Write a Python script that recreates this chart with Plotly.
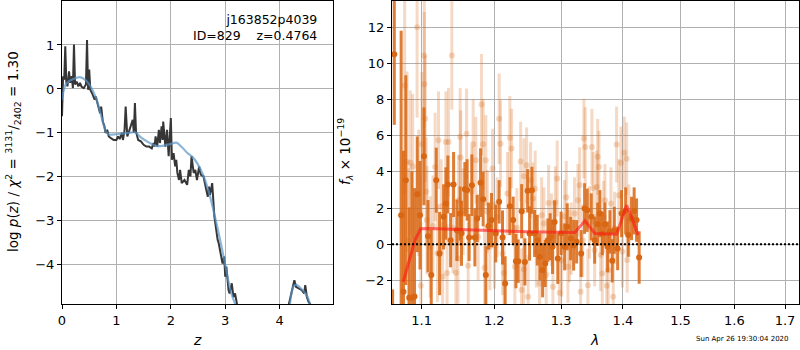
import numpy as np
import plotly.graph_objects as go

# ---------------- left panel: p(z) ----------------
z_pz = [0.00,0.02,0.04,0.06,0.08,0.10,0.13,0.15,0.18,0.20,0.22,0.24,0.27,0.30,0.33,0.36,0.40,0.44,0.46,0.48,
        0.50,0.52,0.55,0.60,0.62,0.65,0.68,0.70,0.72,0.75,0.78,0.80,0.83,0.86,0.90,0.95,1.00,1.03,1.06,1.10,
        1.12,1.15,1.17,1.20,1.23,1.26,1.30,1.32,1.34,1.36,1.40,1.45,1.50,1.55,1.60,1.65,1.68,1.70,1.72,1.75,
        1.78,1.80,1.83,1.85,1.86,1.90,1.93,1.96,1.98,2.00,2.02,2.05,2.08,2.10,2.12,2.15,2.17,2.20,2.25,2.30,
        2.33,2.36,2.38,2.40,2.42,2.45,2.48,2.52,2.55,2.60,2.62,2.65,2.68,2.70,2.72,2.76,2.80,2.83,2.86,2.88,
        2.90,2.92,2.95,2.98,3.00,3.02,3.04,3.06,3.08,3.10,3.12,3.15,3.18,3.22,3.26,3.40,3.80,4.00,4.12,4.17,
        4.22,4.27,4.30,4.35,4.40,4.45,4.47,4.50,4.53,4.56,4.62,4.80,4.98]
logp = [-0.62,0.29,0.21,0.97,0.14,0.06,0.40,0.14,0.29,0.02,1.01,0.10,0.17,0.06,0.14,0.05,0.02,0.10,1.11,-0.02,
        0.44,-0.02,-0.09,-0.24,-0.17,-0.32,-0.43,-0.55,-0.40,-0.74,-0.85,-1.00,-0.93,-1.08,-1.12,-1.16,-1.16,-1.08,-1.14,-1.00,
        -1.16,-0.93,-0.40,-1.08,-0.97,-0.85,-0.70,-1.00,-0.32,-0.97,-1.16,-1.19,-1.27,-1.31,-1.31,-1.35,-1.23,-1.31,-1.08,-1.31,
        -0.93,-1.23,-0.85,-1.16,-0.74,-1.31,-0.93,-1.53,-1.16,-0.66,-1.61,-1.46,-1.76,-1.61,-1.91,-2.07,-1.84,-2.14,-2.07,-2.18,
        -1.84,-1.99,-1.53,-1.69,-1.91,-1.84,-2.07,-1.76,-1.95,-1.99,-2.14,-2.29,-2.45,-2.22,-2.41,-2.14,-2.90,-3.21,-3.43,-3.51,
        -3.62,-3.74,-3.97,-3.81,-4.27,-4.04,-4.42,-4.57,-4.65,-4.50,-4.42,-4.73,-4.65,-4.92,-5.30,-6.0,-7.0,-6.0,-5.3,-4.89,
        -4.65,-4.35,-4.50,-4.54,-4.57,-4.65,-4.46,-4.73,-4.84,-4.89,-5.3,-6.5,-7.0]

z_smooth = [0,0.05,0.1,0.2,0.33,0.45,0.55,0.65,0.75,0.8,0.85,1.0,1.2,1.35,1.45,1.6,1.75,1.9,2.0,2.1,2.2,2.3,
            2.4,2.5,2.6,2.7,2.8,2.9,3.0,3.1,3.2,3.3,3.6,4.0,4.15,4.25,4.3,4.4,4.5,4.56,4.65,4.98]
logp_smooth = [-0.24,0.05,0.15,0.22,0.27,0.18,0.0,-0.3,-0.75,-0.95,-1.03,-1.03,-1.0,-0.99,-1.1,-1.22,-1.3,-1.28,-1.25,-1.22,-1.32,-1.45,
               -1.55,-1.72,-1.98,-2.35,-2.85,-3.4,-4.0,-4.6,-4.95,-5.3,-6.5,-6.0,-5.2,-4.5,-4.45,-4.55,-4.7,-4.9,-5.3,-7.0]

# ---------------- right panel: spectrum ----------------
wave_dark = [1.0624,1.0645,1.0733,1.0763,1.0793,1.0837,1.0872,1.0906,1.0942,1.0978,1.1030,1.1084,1.1127,1.1194,1.1239,
             1.1293,1.1324,1.1351,1.1388,1.1429,1.1474,1.1519,1.1538,1.1584,1.1616,1.1644,1.1682,1.1724,1.1757,1.1804,
             1.1841,1.1879,1.1917,1.1960,1.2021,1.2070,1.2119,1.2157,1.2226,1.2275,1.2315,1.2349,1.2400,1.2448,1.2489,
             1.2518,1.2553,1.2594,1.2634,1.2674,1.2715,1.2755,1.2796,1.2831,1.2868,1.2899,1.2949,1.3000,1.3055,1.3096,
             1.3150,1.3197,1.3244,1.3316,1.3371,1.3413,1.3478,1.3533,1.3582,1.3619,1.3657,1.3701,1.3745,1.3783,1.3821,
             1.3855,1.3911,1.3977,1.4045,1.4089,1.4145,1.4189,1.4230,1.4274]
flux_dark = [-4.5,10.5,1.6,-2.63,3.54,-2.97,-2.97,-2.9,2.76,1.6,4.86,0.44,-1.71,3.54,-0.52,
             1.51,2.25,3.3,0.22,3.3,0.77,1.7,0.6,3.04,3.0,0.37,3.26,0.37,1.42,3.4,
             2.49,-1.71,1.0,1.33,0.59,2.34,0.37,-2.17,2.1,1.33,-0.94,-0.94,1.82,-0.98,2.95,
             0.59,2.98,0.59,0.22,-0.7,-1.44,-1.07,0.22,0.41,-0.15,1.22,-0.8,0.6,-0.15,0.96,
             0.31,-0.06,0.13,-0.52,1.97,1.88,1.51,0.22,1.1,1.69,0.59,1.1,-0.15,0.68,-0.92,
             0.77,-0.24,1.69,1.84,0.5,1.42,1.84,1.33,-0.74]
err_dark = [2.0,3.9,10.2,7.8,5.8,5.0,7.0,6.0,3.2,3.0,2.7,2.0,2.5,1.8,2.3,
            1.8,2.0,1.6,1.5,1.8,1.7,1.5,1.8,1.5,1.7,1.3,1.7,1.6,1.3,1.9,
            1.5,1.6,1.3,1.5,1.6,1.2,1.5,1.5,1.6,1.3,1.5,1.2,1.5,1.3,1.2,
            1.5,1.3,1.3,1.4,1.3,1.5,1.3,1.2,1.3,1.5,1.2,1.4,1.2,1.3,1.3,
            1.2,1.4,1.2,1.3,1.4,1.2,1.3,1.3,1.2,1.3,1.2,1.2,1.4,1.2,1.2,
            1.3,1.2,1.3,1.3,1.2,1.2,1.3,1.2,1.45]

wave_light = [1.0778,1.0810,1.0830,1.0852,1.0883,1.0940,1.0961,1.0990,1.1004,1.1034,1.1036,1.1047,1.1060,1.1070,1.1113,
              1.1150,1.1179,1.1210,1.1224,1.1260,1.1280,1.1324,1.1340,1.1360,1.1405,1.1420,1.1460,1.1490,1.1497,1.1519,
              1.1526,1.1560,1.1608,1.1630,1.1680,1.1700,1.1738,1.1770,1.1818,1.1841,1.1860,1.1879,1.1900,1.1936,1.1975,
              1.2003,1.2040,1.2070,1.2090,1.2119,1.2140,1.2190,1.2226,1.2251,1.2299,1.2330,1.2385,1.2398,1.2430,1.2433,
              1.2474,1.2497,1.2533,1.2568,1.2603,1.2620,1.2669,1.2700,1.2735,1.2770,1.2806,1.2850,1.2873,1.2910,1.2939,
              1.2976,1.3010,1.3055,1.3080,1.3106,1.3130,1.3159,1.3210,1.3265,1.3292,1.3307,1.3340,1.3360,1.3381,1.3424,
              1.3450,1.3489,1.3510,1.3533,1.3565,1.3582,1.3603,1.3630,1.3657,1.3680,1.3701,1.3730,1.3755,1.3800,1.3838,
              1.3860,1.3894,1.3930,1.3966,1.3990,1.4022,1.4062,1.4071,1.4100]
flux_light = [8.78,4.55,0.2,4.5,4.3,12.0,2.84,-2.3,5.52,10.44,8.84,6.94,2.9,1.33,-0.15,
              1.0,4.27,-0.5,5.75,2.1,-1.8,5.65,-1.6,5.65,10.44,0.9,-1.58,-0.8,2.43,5.93,
              4.8,1.8,6.11,-1.2,2.9,5.52,4.64,0.4,7.72,5.52,-1.3,4.64,1.8,-0.15,4.18,
              -0.06,1.5,6.94,5.56,-0.52,-1.6,2.8,5.89,5.29,-1.25,0.9,4.57,-2.54,-1.4,3.76,
              4.36,-2.91,3.54,2.52,3.07,-0.4,-2.17,1.6,1.14,-1.7,2.28,0.8,-2.36,2.3,3.63,
              -2.69,-0.9,1.55,2.6,-1.25,-0.1,0.31,1.7,2.43,3.26,-2.63,0.2,5.84,5.38,-2.27,
              1.2,5.38,3.1,-0.33,3.17,4.83,4.27,-0.6,-1.62,1.5,2.43,-2.3,-1.44,2.25,-2.91,
              0.9,5.51,2.7,4.5,-0.4,5.05,4.73,-0.88,1.3]
err_light = [6.0,5.0,4.0,4.0,4.0,5.0,3.5,3.5,4.0,4.0,4.0,3.5,3.0,3.0,2.8,
             2.8,3.0,2.7,2.7,2.6,3.0,2.8,2.7,3.0,3.0,2.5,2.5,2.5,2.5,2.7,
             2.6,2.4,2.5,2.4,2.5,2.5,2.4,2.4,2.8,2.5,2.3,2.5,2.3,2.4,2.2,
             2.4,2.2,2.5,2.4,2.3,2.2,2.3,2.3,2.2,2.3,2.2,2.2,2.3,2.1,2.1,
             2.1,2.3,2.1,2.0,2.1,2.0,2.1,2.1,2.0,2.0,2.1,2.0,2.0,2.0,2.1,
             1.9,2.0,2.0,2.0,2.0,2.0,2.0,2.0,2.0,2.1,2.0,2.0,2.2,2.2,2.0,
             2.0,2.1,2.0,2.0,2.0,2.1,2.0,2.0,2.0,2.0,2.0,2.0,2.0,2.0,1.9,
             2.0,2.1,2.0,2.0,2.0,2.0,2.0,1.8,2.0]

wave_model = [1.0760,1.0912,1.0987,1.1110,1.2034,1.2524,1.3217,1.3376,1.3537,1.3894,1.3977,1.4060,1.4145,1.4256]
flux_model = [-2.08,0.22,0.85,0.87,0.74,0.68,0.64,1.29,0.59,0.55,1.33,2.15,1.50,0.50]

wave_lim = [1.0616, 1.7287]
zero_line = [0, 0]

z_ticks = [0, 1, 2, 3, 4]
logp_ticks = [-4, -3, -2, -1, 0, 1]
wave_ticks = [1.1, 1.2, 1.3, 1.4, 1.5, 1.6, 1.7]
flux_ticks = [-2, 0, 2, 4, 6, 8, 10, 12]

DARK = "rgb(216,102,18)"
LIGHT = "rgba(216,102,18,0.25)"

fig = go.Figure()

fig.add_trace(go.Scatter(x=z_pz, y=logp, mode="lines",
                         line=dict(color="#363636", width=2), xaxis="x", yaxis="y"))
fig.add_trace(go.Scatter(x=z_smooth, y=logp_smooth, mode="lines", line_shape="spline",
                         line=dict(color="rgba(90,150,200,0.7)", width=2.2), xaxis="x", yaxis="y"))

fig.add_trace(go.Scatter(x=wave_light, y=flux_light, mode="markers",
                         marker=dict(color=LIGHT, size=6, line=dict(width=0)),
                         error_y=dict(type="data", array=err_light, color=LIGHT, thickness=3, width=0),
                         xaxis="x2", yaxis="y2"))
fig.add_trace(go.Scatter(x=wave_dark, y=flux_dark, mode="markers",
                         marker=dict(color=DARK, size=6, line=dict(width=0)),
                         error_y=dict(type="data", array=err_dark, color="rgba(216,102,18,0.85)", thickness=3, width=0),
                         xaxis="x2", yaxis="y2"))
fig.add_trace(go.Scatter(x=wave_model, y=flux_model, mode="lines",
                         line=dict(color="rgba(255,20,20,0.6)", width=3), xaxis="x2", yaxis="y2"))
fig.add_trace(go.Scatter(x=wave_lim, y=zero_line, mode="lines",
                         line=dict(color="black", width=2, dash="2px,2px"), xaxis="x2", yaxis="y2"))

axis_common = dict(showline=True, mirror=True, linecolor="black", linewidth=1, automargin=False,
                   showgrid=True, gridcolor="#b0b0b0", gridwidth=1, zeroline=False,
                   ticks="outside", ticklen=4, tickcolor="black",
                   tickfont=dict(family="DejaVu Sans", size=13, color="black"))

fig.update_layout(
    width=800, height=350, margin=dict(l=0, r=0, t=0, b=0, autoexpand=False),
    paper_bgcolor="white", plot_bgcolor="white", showlegend=False,
    font=dict(family="DejaVu Sans", color="black"),
    xaxis=dict(domain=[62/800, 333/800], range=[0, 4.98], tickvals=z_ticks, anchor="y", **axis_common),
    yaxis=dict(domain=[46/350, 349/350], range=[-4.89, 2.0], tickvals=logp_ticks, anchor="x", **axis_common),
    xaxis2=dict(domain=[392/800, 799/800], type="log", range=[np.log10(wave_lim[0]), np.log10(wave_lim[1])],
                tickvals=wave_ticks, ticktext=[f"{v:.1f}" for v in wave_ticks], anchor="y2", **axis_common),
    yaxis2=dict(domain=[46/350, 349/350], range=[-3.31, 13.45], tickvals=flux_ticks, anchor="x2", **axis_common),
)

annotations = [
    dict(text="j163852p4039<br>ID=829    z=0.4764", xref="paper", yref="paper", x=319/800, y=(350-10)/350,
         xanchor="right", yanchor="top", align="right", showarrow=False,
         font=dict(family="DejaVu Sans", size=12.5, color="black")),
    dict(text="<i>z</i>", xref="paper", yref="paper", x=197/800, y=(350-340)/350, xanchor="center", yanchor="middle",
         showarrow=False, font=dict(family="DejaVu Sans", size=14)),
    dict(text="<i>λ</i>", xref="paper", yref="paper", x=594/800, y=(350-340)/350, xanchor="center", yanchor="middle",
         showarrow=False, font=dict(family="DejaVu Sans", size=14)),
    dict(text="log <i>p</i>(<i>z</i>) / <i>χ</i><sup>2</sup> = <sup>3131</sup>/<sub>2402</sub> = 1.30",
         xref="paper", yref="paper", x=13/800, y=(350-152)/350, xanchor="center", yanchor="middle",
         textangle=-90, showarrow=False, font=dict(family="DejaVu Sans", size=13.5)),
    dict(text="<i>f</i><sub><i>λ</i></sub> × 10<sup>−19</sup>",
         xref="paper", yref="paper", x=345/800, y=(350-152)/350, xanchor="center", yanchor="middle",
         textangle=-90, showarrow=False, font=dict(family="DejaVu Sans", size=13.5)),
    dict(text="Sun Apr 26 19:30:04 2020", xref="paper", yref="paper", x=742/800, y=(350-339)/350,
         xanchor="center", yanchor="middle", showarrow=False, font=dict(family="DejaVu Sans", size=7)),
]
fig.update_layout(annotations=annotations)

fig.write_html("out.html")
